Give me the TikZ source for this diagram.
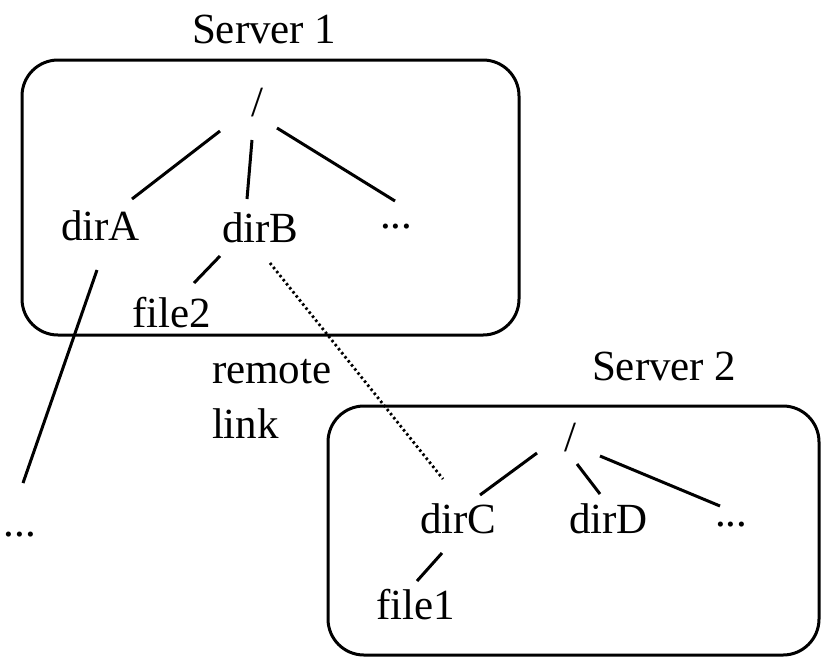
\documentclass[tikz,border=0pt]{standalone}
\usepackage{fontspec}
\setmainfont{Liberation Serif}
\begin{document}
\begin{tikzpicture}[x=1pt,y=-1pt,
  every node/.style={font=\fontsize{43}{50}\selectfont, inner sep=0pt, outer sep=0pt},
  lbl/.style={anchor=base west},
  rootlbl/.style={anchor=base},
  server/.style={draw, line width=3pt, rounded corners=36pt, minimum width=#1},
  edge/.style={line width=3pt},
  remote/.style={line width=2.8pt, dash pattern=on 2.4pt off 2.8pt}
]
\useasboundingbox (0,0) rectangle (821,657);
% server boxes
\node[server=497pt, minimum height=275pt] (box1) at (270.5,197.5) {};
\node[server=491pt, minimum height=249pt] (box2) at (573.5,530.5) {};
% labels
\node[lbl] (s1) at (192,43) {Server 1};
\node[lbl] (s2) at (592,380) {Server 2};
\node[rootlbl] (r1) at (257,116) {/};
\node[lbl] (dirA) at (61,240) {dirA};
\node[lbl] (dirB) at (222,242) {dirB};
\node[lbl] (dots1) at (380,228) {...};
\node[lbl] (file2) at (132,327) {file2};
\node[lbl] (remote) at (212,383) {remote};
\node[lbl] (link) at (212,438) {link};
\node[lbl] (dotsA) at (4,536) {...};
\node[rootlbl] (r2) at (570,451) {/};
\node[lbl] (dirC) at (420,533) {dirC};
\node[lbl] (dirD) at (569,533) {dirD};
\node[lbl] (dots2) at (715,526) {...};
\node[lbl] (file1) at (376,619) {file1};
% connectors
\draw[edge] ([shift={(-37,15)}]r1.base) -- ([shift={(71,-41)}]dirA.base west);
\draw[edge] ([shift={(-5,24)}]r1.base) -- ([shift={(25,-43)}]dirB.base west);
\draw[edge] ([shift={(20,12)}]r1.base) -- ([shift={(15,-27)}]dots1.base west);
\draw[edge] ([shift={(-2,14)}]dirB.base west) -- ([shift={(62,-44)}]file2.base west);
\draw[remote] ([shift={(48,21)}]dirB.base west) -- ([shift={(23,-54)}]dirC.base west);
\draw[edge] ([shift={(36,30)}]dirA.base west) -- ([shift={(19,-53)}]dotsA.base west);
\draw[edge] ([shift={(-33,2)}]r2.base) -- ([shift={(60,-38)}]dirC.base west);
\draw[edge] ([shift={(7,13)}]r2.base) -- ([shift={(31,-39)}]dirD.base west);
\draw[edge] ([shift={(30,5)}]r2.base) -- ([shift={(5,-20)}]dots2.base west);
\draw[edge] ([shift={(22,20)}]dirC.base west) -- ([shift={(41,-38)}]file1.base west);
\end{tikzpicture}
\end{document}
